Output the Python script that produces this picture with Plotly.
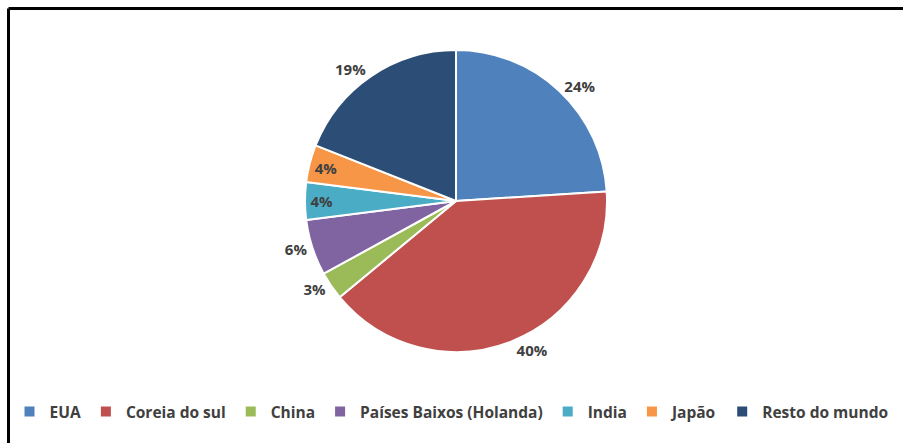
import plotly.graph_objects as go

# Share of each origin (percent)
paises = ["EUA", "Coreia do sul", "China", "Países Baixos (Holanda)",
          "India", "Japão", "Resto do mundo"]
percentuais = [24, 40, 3, 6, 4, 4, 19]
cores = ["#4F81BD", "#C0504D", "#9BBB59", "#8064A2",
         "#4BACC6", "#F79646", "#2C4D75"]
posicao_rotulo = ["outside", "outside", "outside", "outside",
                  "inside", "inside", "outside"]

W, H = 903, 443
cx, cy, r = 456, 201, 151  # pie centre and radius in pixels

fig = go.Figure(go.Pie(
    labels=paises,
    values=percentuais,
    sort=False,
    direction="clockwise",
    rotation=0,
    marker=dict(colors=cores, line=dict(color="white", width=2)),
    texttemplate="%{value}%",
    textposition=posicao_rotulo,
    insidetextorientation="horizontal",
    textfont=dict(family="Open Sans", size=15, color="#404040", weight="bold"),
    hoverinfo="label+percent",
    domain=dict(
        x=[(cx - r) / W, (cx + r) / W],
        y=[(H - cy - r) / H, (H - cy + r) / H],
    ),
))

fig.update_layout(
    width=W, height=H,
    margin=dict(l=0, r=0, t=0, b=0),
    paper_bgcolor="white",
    showlegend=True,
    legend=dict(
        orientation="h",
        x=0.5, xanchor="center",
        y=(H - 412) / H, yanchor="middle",
        bgcolor="rgba(0,0,0,0)",
        font=dict(family="Open Sans", size=15.5, color="#404040", weight="bold"),
        itemwidth=30,
        traceorder="normal",
    ),
    shapes=[
        # frame lines on the top and left edges
        dict(type="line", xref="paper", yref="paper",
             x0=8.5 / W, x1=1.01, y0=(H - 8.5) / H, y1=(H - 8.5) / H,
             line=dict(color="black", width=3)),
        dict(type="line", xref="paper", yref="paper",
             x0=8.5 / W, x1=8.5 / W, y0=-0.01, y1=(H - 8.5) / H,
             line=dict(color="black", width=3)),
    ],
)

fig.write_html("out.html")
